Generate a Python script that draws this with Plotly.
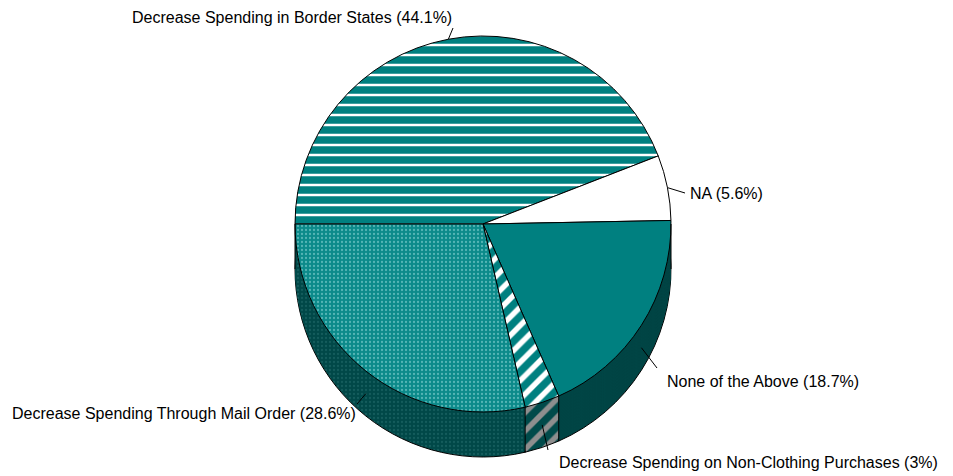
import math
import plotly.graph_objects as go

# Survey responses (percent of respondents)
categories = [
    "Decrease Spending in Border States",
    "NA",
    "None of the Above",
    "Decrease Spending on Non-Clothing Purchases",
    "Decrease Spending Through Mail Order",
]
shares = [44.1, 5.6, 18.7, 3, 28.6]

# Slice styling (top surface)
top_colors = ["#008080", "#ffffff", "#008080", "#008080", "#0b8a8a"]
top_shapes = ["-", "", "", "/", "."]
top_fg = ["#ffffff", "#ffffff", "#008080", "#ffffff", "#55b5b5"]
top_size = [10, 8, 8, 13, 4]
top_solid = [0.25, 0.3, 0.3, 0.42, 0.25]

# Slice styling (extruded side)
side_colors = ["#004848", "#9a9a9a", "#004545", "#004a4a", "#004848"]
side_shapes = ["", "", "", "/", "."]
side_fg = ["#004848", "#9a9a9a", "#004545", "#8e8e8e", "#145c5c"]
side_size = [8, 8, 8, 13, 4]
side_solid = [0.3, 0.3, 0.3, 0.42, 0.25]

W, H = 953, 476
CX, CY, R = 483, 224, 188   # top-face centre / radius in px
DEPTH = 45                  # thickness of the disc in px
LAYERS = 30
ROTATION = 270              # first slice starts at 9 o'clock


def domain_at(dy):
    return dict(
        x=[(CX - R) / W, (CX + R) / W],
        y=[1 - (CY + dy + R) / H, 1 - (CY + dy - R) / H],
    )


fig = go.Figure()

# Side of the disc: stacked copies shifted downwards, lowest first
for k in range(LAYERS, 0, -1):
    dy = DEPTH * k / LAYERS
    fig.add_trace(go.Pie(
        labels=categories, values=shares, sort=False, direction="clockwise",
        rotation=ROTATION, domain=domain_at(dy), textinfo="none",
        hoverinfo="skip", showlegend=False,
        marker=dict(
            colors=side_colors,
            line=dict(color="#000000", width=1 if k == LAYERS else 0),
            pattern=dict(shape=side_shapes, fgcolor=side_fg, bgcolor=side_colors,
                         size=side_size, solidity=side_solid, fillmode="replace"),
        ),
    ))

# Top face
fig.add_trace(go.Pie(
    labels=categories, values=shares, sort=False, direction="clockwise",
    rotation=ROTATION, domain=domain_at(0), textinfo="none",
    hovertemplate="%{label}: %{value}%<extra></extra>", showlegend=False,
    marker=dict(
        colors=top_colors,
        line=dict(color="#000000", width=1),
        pattern=dict(shape=top_shapes, fgcolor=top_fg, bgcolor=top_colors,
                     size=top_size, solidity=top_solid, fillmode="replace"),
    ),
))


def px(x, y):
    return x / W, 1 - y / H


total = sum(shares)
shapes = []
# Vertical edges of the side wall: silhouette tangents and front slice borders
edge_angles = [90.0, 270.0]
acc = ROTATION
for v in shares:
    acc += 360 * v / total
    a = acc % 360
    if 90 < a < 270:
        edge_angles.append(a)
for a in edge_angles:
    t = math.radians(a)
    ex = CX + R * math.sin(t)
    ey = CY - R * math.cos(t)
    x0, y0 = px(ex, ey)
    x1, y1 = px(ex, ey + DEPTH)
    shapes.append(dict(type="line", xref="paper", yref="paper", x0=x0, y0=y0,
                       x1=x1, y1=y1, line=dict(color="#000000", width=1)))

# Label placement: text anchor point and leader end, in px
label_pos = [
    dict(tx=454, ty=18, anchor="right", lx=453, ly=28),
    dict(tx=688, ty=193, anchor="left", lx=685, ly=193),
    dict(tx=665, ty=381, anchor="left", lx=657, ly=368),
    dict(tx=557, ty=462, anchor="left", lx=548, ly=450),
    dict(tx=358, ty=413, anchor="right", lx=357, ly=404),
]

annotations = []
acc = ROTATION
for name, v, p in zip(categories, shares, label_pos):
    mid = acc + 180 * v / total
    acc += 360 * v / total
    t = math.radians(mid)
    sx = CX + R * math.sin(t)
    sy = CY - R * math.cos(t)
    if math.cos(t) < 0:
        sy += DEPTH / 2
    x0, y0 = px(sx, sy)
    x1, y1 = px(p["lx"], p["ly"])
    shapes.append(dict(type="line", xref="paper", yref="paper", x0=x0, y0=y0,
                       x1=x1, y1=y1, line=dict(color="#000000", width=1)))
    ax, ay = px(p["tx"], p["ty"])
    annotations.append(dict(
        text=f"{name} ({v:g}%)", x=ax, y=ay, xref="paper", yref="paper",
        xanchor=p["anchor"], yanchor="middle", showarrow=False,
        font=dict(family="Arial, Liberation Sans, sans-serif", size=16, color="#000000"),
    ))

fig.update_layout(
    width=W, height=H,
    margin=dict(l=0, r=0, t=0, b=0),
    paper_bgcolor="#ffffff", plot_bgcolor="#ffffff",
    showlegend=False,
    shapes=shapes, annotations=annotations,
)

fig.write_html("out.html")
